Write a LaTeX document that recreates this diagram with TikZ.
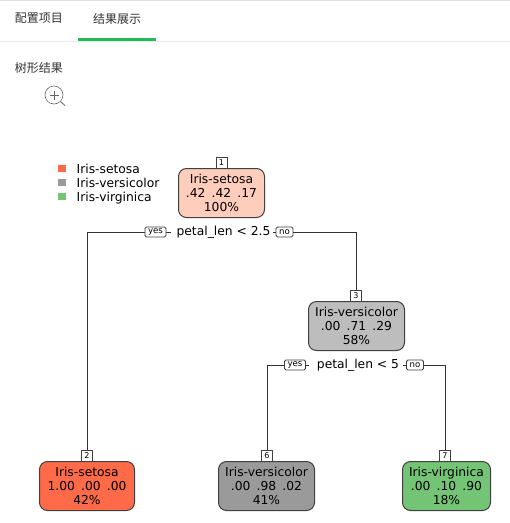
\documentclass[tikz,border=0pt]{standalone}
\usepackage{fontspec}
\setmainfont{DejaVu Sans}
\newfontfamily\cjk{Noto Sans CJK SC}
\definecolor{cSet}{HTML}{FF6A48}
\definecolor{cVer}{HTML}{9A9A9A}
\definecolor{cVir}{HTML}{74C476}
\definecolor{cSetL}{HTML}{FFCDBC}
\definecolor{cVerL}{HTML}{BDBDBD}
\definecolor{edgeC}{HTML}{333333}
\definecolor{tabGreen}{HTML}{22BB5C}
\newcommand{\gapsp}{\hspace{6.2pt}}
\tikzset{
  x=1pt,y=-1pt,
  treebox/.style={draw=black!75,line width=1pt,rounded corners=8pt,anchor=north west,inner sep=0pt,align=center,minimum height=49pt,font=\fontsize{12.3}{14}\selectfont},
  numbox/.style={draw=black!75,fill=white,line width=0.8pt,inner sep=0pt,minimum width=11pt,minimum height=11pt,font=\fontsize{8}{8}\selectfont},
  yesno/.style={draw=black!75,fill=white,line width=0.9pt,rounded corners=1.5pt,inner sep=0pt,minimum height=10pt,font=\fontsize{8.6}{9}\selectfont},
  splitlab/.style={inner ysep=0pt,inner xsep=2pt,font=\fontsize{12.3}{14}\selectfont},
  legtext/.style={anchor=base west,inner sep=0pt,font=\fontsize{12.3}{14}\selectfont},
  legkey/.style={inner sep=0pt,minimum width=8pt,minimum height=7pt},
  uitext/.style={inner sep=0pt,font=\cjk\fontsize{12}{13}\selectfont,text=black!80},
  conn/.style={draw=edgeC,line width=0.9pt},
}
\begin{document}
\begin{tikzpicture}
\useasboundingbox (0,0) rectangle (510,523);
\fill[white] (0,0) rectangle (510,523);
\fill[black!12] (0,0) rectangle (510,1);
\fill[black!8] (0,41) rectangle (510,42);
\fill[tabGreen] (78,38) rectangle (156,41);
\node[uitext] (tabA) at (39,18.5) {配置项目};
\node[uitext] (tabB) at (117,18.5) {结果展示};
\node[uitext] (title) at (39,68) {树形结果};
\coordinate (zoomc) at (54,95);
\draw[black!60,line width=0.6pt] (zoomc) circle (9);
\draw[black!60,line width=0.6pt] (49.5,95) -- (58.5,95) (54,90.5) -- (54,99.5);
\draw[black!60,line width=0.8pt] (60.5,101.5) -- (65,105.5);
% legend
\node[legkey,fill=cSet] (k1) at (62,168.3) {};
\node[legkey,fill=cVer] (k2) at (62,182.3) {};
\node[legkey,fill=cVir] (k3) at (62,196.5) {};
\node[legtext] (l1) at (76.5,173) {Iris-setosa};
\node[legtext] (l2) at (76.5,187) {Iris-versicolor};
\node[legtext] (l3) at (76.5,201) {Iris-virginica};
% tree nodes
\node[treebox,fill=cSetL,minimum width=86pt] (n1) at (178,168) {Iris-setosa\\.42\gapsp.42\gapsp.17\\100\%};
\node[treebox,fill=cVerL,minimum width=96pt] (n3) at (308,301) {Iris-versicolor\\.00\gapsp.71\gapsp.29\\58\%};
\node[treebox,fill=cSet,minimum width=95pt] (n2) at (39,461) {Iris-setosa\\1.00\gapsp.00\gapsp.00\\42\%};
\node[treebox,fill=cVer,minimum width=96pt] (n6) at (218,461) {Iris-versicolor\\.00\gapsp.98\gapsp.02\\41\%};
\node[treebox,fill=cVir,minimum width=88pt] (n7) at (402,461) {Iris-virginica\\.00\gapsp.10\gapsp.90\\18\%};
% split labels
\node[splitlab] (s1) at (223.5,232) {petal\_len < 2.5};
\node[splitlab] (s3) at (358,365) {petal\_len < 5};
\node[yesno,minimum width=21pt] (y1) at (155.5,232) {yes};
\node[yesno,minimum width=17pt] (no1) at (284.5,232) {no};
\node[yesno,minimum width=21pt] (y3) at (295,365) {yes};
\node[yesno,minimum width=17pt] (no3) at (415,365) {no};
% number labels
\node[numbox] (t1) at (221.5,162.5) {1};
\node[numbox] (t3) at (356,295.5) {3};
\node[numbox] (t2) at (87,455.5) {2};
\node[numbox] (t6) at (267,455.5) {6};
\node[numbox] (t7) at (445,455.5) {7};
% connectors
\draw[conn,shorten >=3.5pt] (y1.east) -- (s1.west);
\draw[conn] (s1.east) -- (no1.west);
\draw[conn,shorten >=6pt] (y3.east) -- (s3.west);
\draw[conn,shorten <=2pt] (s3.east) -- (no3.west);
\draw[conn] (y1.west) -| (t2.north);
\draw[conn] (no1.east) -| (t3.north);
\draw[conn] (y3.west) -| (t6.north);
\draw[conn] (no3.east) -| (t7.north);
\end{tikzpicture}
\end{document}
